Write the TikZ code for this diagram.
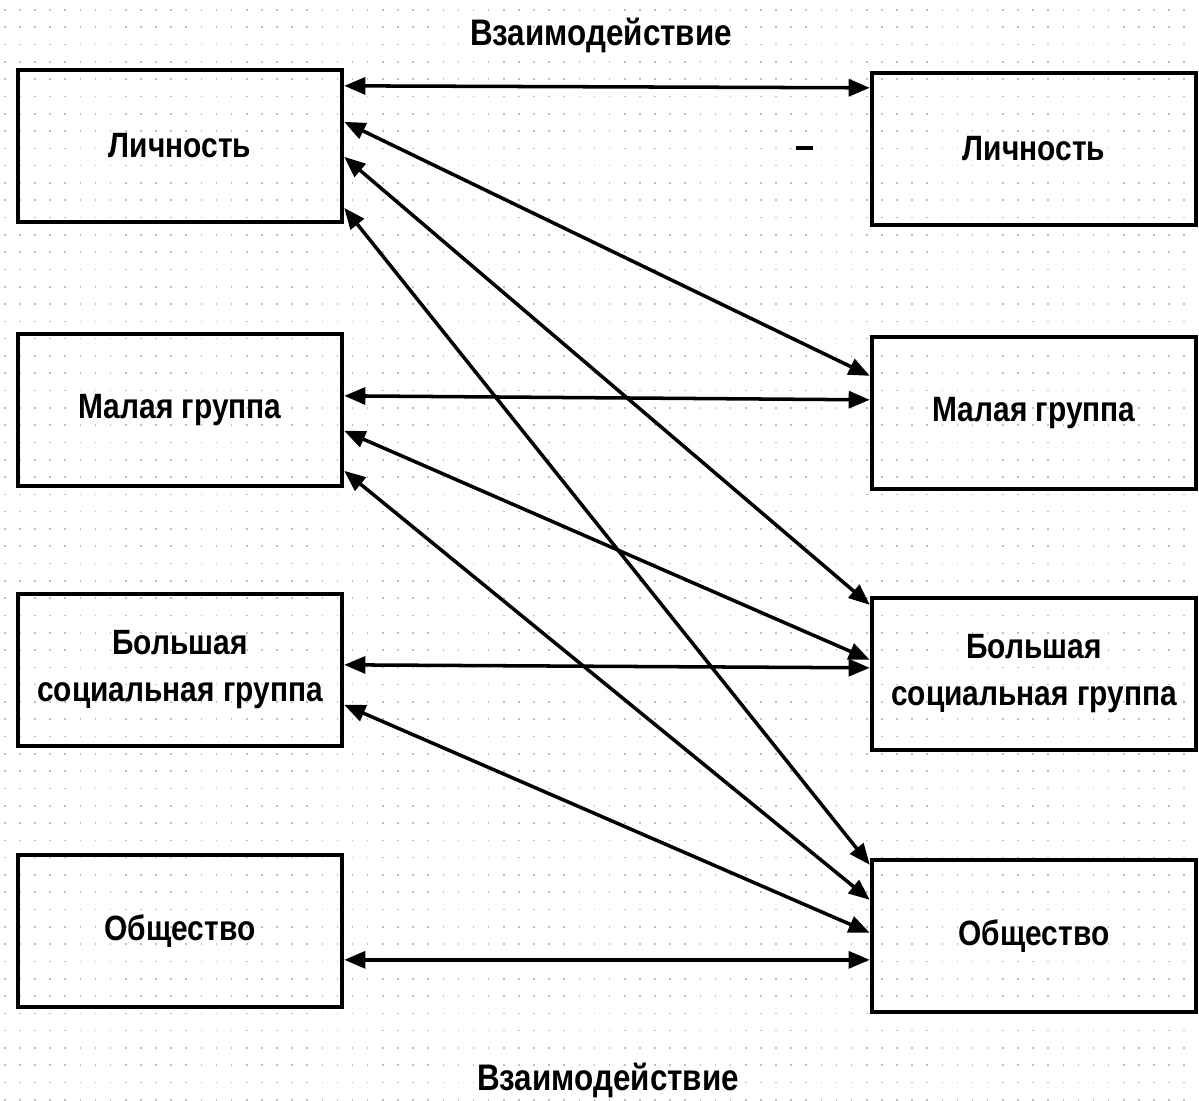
\documentclass[tikz,border=0pt]{standalone}
\usepackage{fontspec}
\setmainfont{Liberation Sans}[FakeStretch=0.85]
\usetikzlibrary{arrows.meta,calc}
\begin{document}
\begin{tikzpicture}[x=0.01cm,y=-0.01cm,
  box/.style={draw, line width=1.2pt, minimum width=3.24cm, minimum height=1.52cm,
    align=center, inner sep=0pt, font=\bfseries\fontsize{10}{13.4}\selectfont},
  link/.style={line width=1pt,
    {Triangle[length=6pt,width=4.8pt]}-{Triangle[length=6pt,width=4.8pt]}},
  title/.style={font=\bfseries\fontsize{10.5}{12}\selectfont},
  griddots/.style={gray!50, line width=0.45pt, dash pattern=on 0.45pt off 3.85pt}
]
\fill[white] (0,0) rectangle (1199,1101);
\useasboundingbox (0,0) rectangle (1199,1101);
% dotted background
\foreach \j in {0,...,63} {
  \draw[griddots] (4,{10+\j*17.3}) -- (1199,{10+\j*17.3});
}
% boxes
\node[box] (l1) at (180,146) {Личность};
\node[box] (l2) at (180,410) {Малая группа};
\node[box] (l3) at (180,670) {Большая\\социальная группа};
\node[box] (l4) at (180,931) {Общество};
\node[box] (r1) at (1034,149) {Личность};
\node[box] (r2) at (1034,413) {Малая группа};
\node[box] (r3) at (1034,674) {Большая\\социальная группа};
\node[box] (r4) at (1034,936) {Общество};
% titles
\node[title] (t1) at (601,35) {Взаимодействие};
\node[title] (t2) at (608,1080) {Взаимодействие};
% stray mark
\draw[line width=1.1pt] (796,148) -- (813,148);
% connectors
\draw[link] ($(l1.north east)+(0,18)$) -- ($(r1.north west)+(0,17)$);
\draw[link] ($(l1.north east)+(0,54)$) -- ($(r2.north west)+(0,41)$);
\draw[link] ($(l1.north east)+(0,89)$) -- ($(r3.north west)+(0,9)$);
\draw[link] ($(l1.north east)+(0,140)$) -- ($(r4.north west)+(0,7)$);
\draw[link] ($(l2.north east)+(0,64)$) -- ($(r2.north west)+(0,65)$);
\draw[link] ($(l2.north east)+(0,99)$) -- ($(r3.north west)+(0,64)$);
\draw[link] ($(l2.north east)+(0,139)$) -- ($(r4.north west)+(0,42)$);
\draw[link] ($(l3.north east)+(0,73)$) -- ($(r3.north west)+(0,72)$);
\draw[link] ($(l3.north east)+(0,113)$) -- ($(r4.north west)+(0,75)$);
\draw[link] ($(l4.north east)+(0,107)$) -- ($(r4.north west)+(0,102)$);
\end{tikzpicture}
\end{document}
